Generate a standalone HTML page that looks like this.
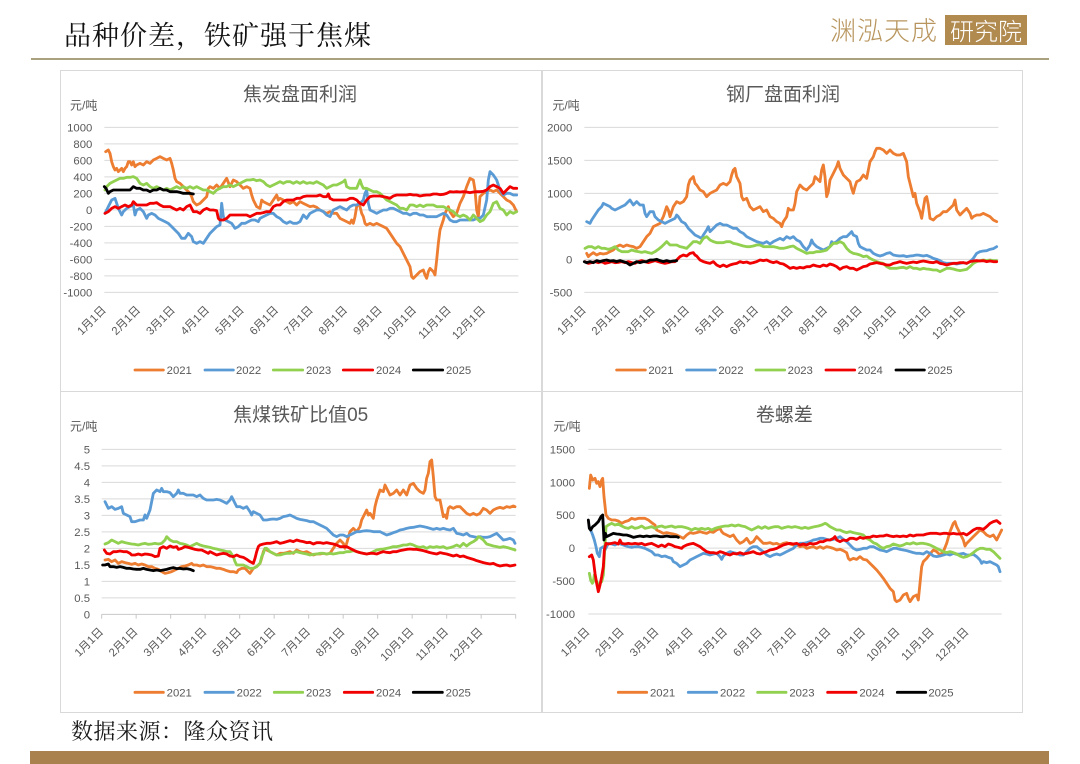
<!DOCTYPE html>
<html><head><meta charset="utf-8"><style>
html,body{margin:0;padding:0;background:#fff;}
body{width:1080px;height:764px;position:relative;overflow:hidden;font-family:"Liberation Sans","Noto Sans CJK SC",sans-serif;}
.abs{position:absolute;}
.panel{position:absolute;border:1px solid #d9d9d9;box-sizing:border-box;background:#fff;}
svg{position:absolute;overflow:visible;}
svg text{font-family:"Liberation Sans","Noto Sans CJK SC",sans-serif;fill:#595959;}
.s{fill:none;stroke-width:8.5;stroke-linejoin:round;stroke-linecap:round;}
.o{stroke:#ED7D31}.b{stroke:#5B9BD5}.g{stroke:#92D050}.r{stroke:#F00000}.k{stroke:#000}
.grid line{stroke:#d9d9d9;stroke-width:3}
</style></head><body>
<div class="abs" style="left:64px;top:16px;font-family:'Noto Serif CJK SC','Liberation Serif',serif;font-size:27px;color:#111;letter-spacing:1px;line-height:36px;">品种价差，铁矿强于焦煤</div>
<div class="abs" style="left:830px;top:14px;font-family:'Noto Sans CJK SC',sans-serif;font-weight:300;font-size:26px;line-height:32px;color:#b8955e;letter-spacing:1px;">渊泓天成</div>
<div class="abs" style="left:945px;top:15px;width:82px;height:30px;background:#b08a4e;color:#fff;font-family:'Noto Sans CJK SC',sans-serif;font-weight:300;font-size:24px;line-height:30px;text-align:center;">研究院</div>
<div class="abs" style="left:31px;top:58px;width:1018px;height:2px;background:#aaa27e;"></div>

<div class="panel" style="left:60px;top:70px;width:482px;height:322px;"></div>
<div class="panel" style="left:542px;top:70px;width:481px;height:322px;"></div>
<div class="panel" style="left:60px;top:391px;width:482px;height:322px;"></div>
<div class="panel" style="left:542px;top:391px;width:481px;height:322px;"></div>

<!-- Panel 1 -->
<svg style="left:60px;top:90px" width="470" height="300" viewBox="0 0 1410 900">
<text x="720" y="15" font-size="57" text-anchor="middle" dominant-baseline="central">焦炭盘面利润</text>
<text x="30" y="58" font-size="36">元/吨</text>
<g class="grid">
<line x1="133" x2="1375" y1="112" y2="112"/><line x1="133" x2="1375" y1="161.5" y2="161.5"/><line x1="133" x2="1375" y1="211" y2="211"/><line x1="133" x2="1375" y1="260.5" y2="260.5"/><line x1="133" x2="1375" y1="310" y2="310"/><line x1="133" x2="1375" y1="359.5" y2="359.5"/><line x1="133" x2="1375" y1="409" y2="409"/><line x1="133" x2="1375" y1="458.5" y2="458.5"/><line x1="133" x2="1375" y1="508" y2="508"/><line x1="133" x2="1375" y1="557.5" y2="557.5"/><line x1="133" x2="1375" y1="607" y2="607"/>
</g>
<g font-size="34" text-anchor="end">
<text x="97" y="124">1000</text><text x="97" y="173.5">800</text><text x="97" y="223">600</text><text x="97" y="272.5">400</text><text x="97" y="322">200</text><text x="97" y="371.5">0</text><text x="97" y="421">-200</text><text x="97" y="470.5">-400</text><text x="97" y="520">-600</text><text x="97" y="569.5">-800</text><text x="97" y="619">-1000</text>
</g>
<g font-size="34" text-anchor="end">
<text transform="translate(140,662) rotate(-45)">1月1日</text><text transform="translate(243,662) rotate(-45)">2月1日</text><text transform="translate(347,662) rotate(-45)">3月1日</text><text transform="translate(450,662) rotate(-45)">4月1日</text><text transform="translate(554,662) rotate(-45)">5月1日</text><text transform="translate(657,662) rotate(-45)">6月1日</text><text transform="translate(761,662) rotate(-45)">7月1日</text><text transform="translate(864,662) rotate(-45)">8月1日</text><text transform="translate(968,662) rotate(-45)">9月1日</text><text transform="translate(1071,662) rotate(-45)">10月1日</text><text transform="translate(1175,662) rotate(-45)">11月1日</text><text transform="translate(1278,662) rotate(-45)">12月1日</text>
</g>
<polyline class="s o" points="137,185 145,180 150,190 155,215 160,230 165,240 170,235 175,245 180,240 185,235 190,245 195,235 200,230 205,215 210,215 215,225 220,215 225,230 230,225 240,220 250,225 260,215 270,220 280,210 290,205 300,200 310,205 320,210 330,205 335,220 340,240 345,265 350,275 360,280 370,290 380,300 390,310 395,320 400,335 405,340 410,345 420,340 430,330 440,320 445,295 450,290 460,295 470,285 480,295 490,280 500,265 510,290 520,270 530,275 540,285 550,295 560,290 570,295 575,315 580,330 590,350 600,355 605,330 610,335 620,340 630,345 640,330 650,315 655,330 660,325 670,330 680,335 690,340 700,335 710,345 720,335 730,340 740,345 750,350 760,348 770,352 780,360 790,365 800,370 810,365 820,370 830,370 840,385 850,390 860,395 870,400 875,390 880,400 885,380 890,350 895,340 900,350 905,370 910,380 915,400 920,405 930,400 940,405 950,400 960,405 970,410 980,415 990,430 1000,445 1010,460 1020,470 1030,490 1040,510 1050,530 1055,560 1060,565 1070,555 1080,545 1090,540 1095,555 1100,565 1105,545 1110,535 1120,545 1125,555 1130,510 1135,460 1140,420 1145,405 1150,390 1155,370 1160,360 1165,350 1170,365 1180,380 1190,370 1200,340 1210,320 1220,290 1230,265 1240,270 1245,300 1250,360 1255,380 1260,320 1270,310 1280,305 1290,300 1300,305 1310,300 1320,310 1330,320 1340,330 1350,335 1360,345 1370,365"/>
<polyline class="s b" points="135,370 145,350 155,330 165,325 170,340 175,355 185,375 190,365 200,355 210,350 220,345 225,375 230,360 240,355 250,365 260,385 265,375 275,370 285,375 295,385 305,390 315,395 325,400 335,410 345,420 355,430 365,445 375,445 385,430 395,440 400,455 410,460 420,455 430,460 440,445 450,430 460,420 470,410 480,405 485,340 490,380 495,390 505,395 515,400 525,415 535,410 545,400 555,400 565,395 575,390 585,390 595,395 600,385 610,380 620,375 630,370 640,370 650,380 660,385 670,395 680,400 690,395 700,400 710,400 720,395 730,375 740,385 750,370 760,365 770,360 780,360 790,365 800,375 810,380 820,360 830,355 840,350 850,355 860,360 870,350 880,345 890,345 900,340 910,330 915,310 920,300 925,340 930,360 940,365 950,370 960,365 970,360 980,360 990,355 1000,355 1010,360 1020,365 1030,370 1040,370 1050,375 1060,370 1070,370 1080,375 1090,375 1100,380 1110,380 1120,380 1130,380 1140,375 1150,370 1160,375 1170,390 1180,395 1190,395 1200,390 1210,390 1220,390 1230,390 1240,390 1250,385 1260,385 1270,375 1280,330 1285,270 1290,245 1300,255 1310,270 1320,300 1330,315 1340,310 1350,310 1360,315 1370,315"/>
<polyline class="s g" points="135,300 140,290 150,280 160,275 170,270 180,265 190,265 200,262 210,262 220,260 230,265 240,280 250,285 260,280 270,290 280,295 290,290 300,295 310,300 320,295 330,300 340,295 350,290 360,295 370,290 380,295 390,290 400,295 410,290 420,295 430,300 440,300 450,305 460,310 470,300 480,295 490,290 500,290 510,285 520,290 530,285 540,280 550,275 560,270 570,270 580,268 590,272 600,270 610,275 620,285 630,290 640,285 650,280 660,275 670,280 680,275 690,275 700,280 710,275 720,280 730,275 740,280 750,278 760,280 770,275 780,280 790,285 800,295 810,290 820,285 830,285 840,280 850,275 855,270 860,290 870,295 880,295 890,295 900,270 905,285 910,295 920,295 930,300 940,305 950,305 960,310 970,320 980,330 990,335 1000,340 1010,345 1020,355 1030,355 1040,360 1050,345 1060,345 1070,350 1080,345 1090,350 1100,345 1110,345 1120,345 1130,350 1140,350 1150,350 1160,355 1170,360 1180,365 1190,375 1200,380 1210,375 1220,380 1230,390 1240,375 1250,385 1260,395 1270,390 1280,375 1290,365 1300,340 1310,335 1320,355 1330,360 1340,375 1350,365 1360,370 1370,365"/>
<polyline class="s r" points="135,370 145,365 155,355 165,350 175,355 185,350 195,345 205,350 215,345 220,335 230,345 240,345 250,345 260,345 270,340 280,340 290,338 300,345 310,350 320,350 330,350 340,355 350,360 360,355 370,360 380,350 390,345 400,365 410,365 420,370 430,360 440,355 450,360 460,360 470,362 475,385 480,390 490,390 500,385 510,375 520,375 530,375 540,375 550,375 560,375 570,380 580,375 590,370 600,370 610,368 620,365 630,365 640,350 650,345 660,345 670,335 680,330 690,330 700,330 710,325 720,325 730,320 740,318 750,318 760,318 770,318 780,315 790,320 800,320 805,312 810,325 820,330 830,330 840,330 850,330 860,330 870,325 880,325 890,330 900,340 910,345 920,330 930,320 940,318 950,318 960,318 970,320 980,322 990,325 1000,318 1010,315 1020,315 1030,315 1040,315 1050,313 1060,315 1070,315 1080,318 1090,316 1100,315 1110,315 1120,312 1130,312 1140,314 1150,313 1160,310 1170,305 1180,306 1190,305 1200,306 1210,305 1220,306 1230,308 1240,306 1250,305 1260,305 1270,304 1280,300 1290,290 1300,285 1310,290 1320,295 1330,310 1340,300 1350,290 1360,295 1370,295"/>
<polyline class="s k" points="133,290 138,295 145,310 150,305 160,300 170,300 180,300 190,300 200,300 210,300 215,295 220,290 230,295 240,295 250,300 260,300 270,305 280,300 290,300 300,295 310,300 320,300 330,305 340,305 350,305 360,307 370,310 380,310 390,310 400,312"/>
<g font-size="34">
<line x1="225" x2="310" y1="840" y2="840" class="s o" stroke-linecap="butt"/><text x="320" y="852">2021</text>
<line x1="435" x2="520" y1="840" y2="840" class="s b" stroke-linecap="butt"/><text x="528" y="852">2022</text>
<line x1="640" x2="728" y1="840" y2="840" class="s g" stroke-linecap="butt"/><text x="738" y="852">2023</text>
<line x1="850" x2="938" y1="840" y2="840" class="s r" stroke-linecap="butt"/><text x="948" y="852">2024</text>
<line x1="1060" x2="1148" y1="840" y2="840" class="s k" stroke-linecap="butt"/><text x="1158" y="852">2025</text>
</g>
</svg>

<!-- Panel 2 -->
<svg style="left:540px;top:90px" width="470" height="300" viewBox="0 0 1410 900">
<text x="729" y="15" font-size="57" text-anchor="middle" dominant-baseline="central">钢厂盘面利润</text>
<text x="37" y="58" font-size="36">元/吨</text>
<g class="grid">
<line x1="133" x2="1375" y1="112" y2="112"/><line x1="133" x2="1375" y1="211" y2="211"/><line x1="133" x2="1375" y1="310" y2="310"/><line x1="133" x2="1375" y1="409" y2="409"/><line x1="133" x2="1375" y1="508" y2="508"/><line x1="133" x2="1375" y1="607" y2="607"/>
</g>
<g font-size="34" text-anchor="end">
<text x="97" y="124">2000</text><text x="97" y="223">1500</text><text x="97" y="322">1000</text><text x="97" y="421">500</text><text x="97" y="520">0</text><text x="97" y="619">-500</text>
</g>
<g font-size="34" text-anchor="end">
<text transform="translate(140,662) rotate(-45)">1月1日</text><text transform="translate(243,662) rotate(-45)">2月1日</text><text transform="translate(347,662) rotate(-45)">3月1日</text><text transform="translate(450,662) rotate(-45)">4月1日</text><text transform="translate(554,662) rotate(-45)">5月1日</text><text transform="translate(657,662) rotate(-45)">6月1日</text><text transform="translate(761,662) rotate(-45)">7月1日</text><text transform="translate(864,662) rotate(-45)">8月1日</text><text transform="translate(968,662) rotate(-45)">9月1日</text><text transform="translate(1071,662) rotate(-45)">10月1日</text><text transform="translate(1175,662) rotate(-45)">11月1日</text><text transform="translate(1278,662) rotate(-45)">12月1日</text>
</g>
<polyline class="s o" points="140,490 145,500 150,495 160,488 170,495 180,490 190,492 200,490 210,485 220,480 230,470 240,465 250,470 260,465 270,468 280,470 290,475 300,470 310,455 320,440 330,430 340,410 350,405 360,400 370,380 380,350 385,360 390,380 400,350 410,335 420,340 430,335 440,320 445,285 450,270 460,260 465,280 470,285 480,300 490,305 500,320 510,310 520,305 530,300 540,285 550,280 560,285 570,275 575,255 580,240 585,235 590,260 600,280 605,320 610,330 620,325 630,350 640,360 650,355 660,350 670,365 680,360 690,380 700,385 710,395 720,400 725,410 730,395 740,380 745,355 750,360 760,360 765,340 770,305 780,285 790,295 800,300 810,290 820,280 825,260 830,265 840,275 845,240 850,225 855,260 860,320 865,305 870,270 880,250 890,230 895,215 900,235 910,255 920,265 930,275 935,295 940,310 945,290 950,275 960,270 970,255 980,265 985,240 990,215 1000,200 1005,185 1010,175 1020,175 1030,180 1040,190 1050,180 1060,190 1070,195 1080,195 1090,190 1100,215 1105,260 1110,280 1115,300 1120,320 1125,310 1130,340 1140,365 1145,385 1150,355 1155,325 1160,320 1165,345 1170,385 1180,390 1190,380 1200,375 1210,365 1220,365 1230,355 1240,345 1245,330 1250,360 1260,375 1270,365 1280,355 1290,370 1295,385 1300,380 1310,375 1320,375 1330,370 1340,375 1350,380 1360,390 1370,395"/>
<polyline class="s b" points="140,395 150,400 155,390 165,375 175,360 185,350 190,340 200,345 210,350 215,355 225,360 235,355 245,350 255,345 265,335 270,330 280,345 290,335 300,345 310,345 315,370 320,380 330,365 340,365 345,380 355,390 365,395 375,400 385,395 395,390 405,385 410,375 415,380 425,395 435,400 445,415 455,425 465,435 475,440 485,445 490,435 500,420 505,410 510,425 520,415 530,405 540,400 550,405 560,405 570,410 580,415 590,415 600,425 610,430 620,440 630,445 640,450 650,455 660,458 670,460 680,455 690,462 700,455 710,450 720,445 730,450 740,440 750,445 760,440 770,450 780,455 790,470 800,480 810,465 815,450 820,460 830,470 840,475 850,480 860,475 870,470 875,455 880,460 890,455 900,445 910,440 920,440 930,430 935,425 940,435 950,440 955,460 960,470 970,475 980,480 990,480 1000,490 1010,495 1020,498 1030,495 1040,490 1050,488 1060,495 1070,497 1080,498 1090,497 1100,500 1110,498 1120,497 1130,495 1140,496 1150,498 1160,496 1170,500 1180,505 1190,508 1200,512 1210,518 1220,520 1230,520 1240,520 1250,522 1260,520 1270,518 1280,520 1290,515 1300,505 1310,490 1320,485 1330,483 1340,482 1350,478 1360,476 1370,470"/>
<polyline class="s g" points="135,475 145,470 155,470 165,475 175,470 185,475 195,475 205,478 215,475 225,470 235,480 245,485 255,485 265,485 275,480 285,483 295,485 305,487 315,485 325,488 335,490 345,485 355,478 365,470 375,460 380,455 390,465 400,465 410,465 420,470 430,472 440,475 450,465 460,455 470,455 480,460 490,445 500,440 510,450 520,455 530,458 540,458 550,458 560,455 570,455 580,460 590,462 600,465 610,468 620,470 630,470 640,468 650,465 660,465 670,470 680,470 690,470 700,470 710,472 720,475 730,475 740,473 750,470 760,468 770,475 780,480 790,485 800,490 810,488 820,488 830,485 840,485 850,483 860,480 870,470 880,460 890,460 900,455 910,460 920,475 930,485 940,490 950,492 960,495 970,500 980,498 990,505 1000,510 1010,515 1020,518 1030,520 1040,530 1050,535 1060,535 1070,535 1080,533 1090,532 1100,535 1110,530 1120,535 1130,535 1140,538 1150,535 1160,537 1170,538 1180,540 1190,540 1200,545 1210,540 1220,535 1230,535 1240,537 1250,540 1260,542 1270,540 1280,538 1290,530 1300,520 1310,515 1320,512 1330,510 1340,512 1350,510 1360,512 1370,512"/>
<polyline class="s r" points="135,515 145,520 155,518 165,515 175,518 185,515 195,520 205,518 215,515 225,518 235,517 245,515 255,518 265,515 275,518 285,520 295,515 305,512 315,515 325,518 335,515 345,512 355,515 365,518 375,520 385,518 395,515 405,515 410,510 420,500 430,495 440,498 450,490 460,488 465,495 470,498 480,510 490,515 500,518 510,520 520,515 530,525 540,530 550,525 560,530 570,525 580,522 590,520 600,515 610,518 620,516 630,520 640,518 650,515 660,510 670,512 680,510 690,515 700,518 710,515 720,520 730,522 740,528 750,535 760,532 770,535 780,532 790,534 800,530 810,530 820,525 830,528 840,530 850,525 860,528 870,522 880,525 890,530 900,538 910,532 920,530 930,535 940,535 950,540 960,535 970,530 980,528 990,522 1000,520 1010,518 1020,520 1030,522 1040,525 1050,525 1060,520 1070,518 1080,515 1090,518 1100,520 1110,518 1120,516 1130,518 1140,515 1150,513 1160,515 1170,517 1180,518 1190,515 1200,520 1210,522 1220,525 1230,522 1240,520 1250,520 1260,518 1270,518 1280,520 1290,515 1300,513 1310,512 1320,513 1330,512 1340,515 1350,513 1360,515 1370,515"/>
<polyline class="s k" points="133,515 140,518 150,515 160,518 170,512 180,515 190,512 200,510 210,513 220,512 230,515 240,512 250,515 260,518 270,525 280,520 290,515 300,518 310,515 320,515 330,510 340,510 350,508 360,512 370,515 380,512 390,515 400,513 410,512"/>
<g font-size="34">
<line x1="230" x2="316" y1="840" y2="840" class="s o" stroke-linecap="butt"/><text x="325" y="852">2021</text>
<line x1="440" x2="526" y1="840" y2="840" class="s b" stroke-linecap="butt"/><text x="535" y="852">2022</text>
<line x1="648" x2="734" y1="840" y2="840" class="s g" stroke-linecap="butt"/><text x="743" y="852">2023</text>
<line x1="858" x2="944" y1="840" y2="840" class="s r" stroke-linecap="butt"/><text x="953" y="852">2024</text>
<line x1="1068" x2="1153" y1="840" y2="840" class="s k" stroke-linecap="butt"/><text x="1162" y="852">2025</text>
</g>
</svg>

<!-- Panel 3 -->
<svg style="left:60px;top:400px" width="470" height="310" viewBox="0 0 1410 930">
<text x="722" y="47" font-size="57" text-anchor="middle" dominant-baseline="central">焦煤铁矿比值05</text>
<text x="30" y="92" font-size="36">元/吨</text>
<g class="grid">
<line x1="125" x2="1367" y1="148" y2="148"/><line x1="125" x2="1367" y1="197.5" y2="197.5"/><line x1="125" x2="1367" y1="247" y2="247"/><line x1="125" x2="1367" y1="296.5" y2="296.5"/><line x1="125" x2="1367" y1="346" y2="346"/><line x1="125" x2="1367" y1="395.5" y2="395.5"/><line x1="125" x2="1367" y1="445" y2="445"/><line x1="125" x2="1367" y1="494.5" y2="494.5"/><line x1="125" x2="1367" y1="544" y2="544"/><line x1="125" x2="1367" y1="593.5" y2="593.5"/>
</g>
<g stroke="#c8c8c8" stroke-width="3">
<line x1="125" x2="1367" y1="643" y2="643"/>
<line x1="125" x2="125" y1="643" y2="656"/><line x1="228.5" x2="228.5" y1="643" y2="656"/><line x1="332" x2="332" y1="643" y2="656"/><line x1="435.5" x2="435.5" y1="643" y2="656"/><line x1="539" x2="539" y1="643" y2="656"/><line x1="642.5" x2="642.5" y1="643" y2="656"/><line x1="746" x2="746" y1="643" y2="656"/><line x1="849.5" x2="849.5" y1="643" y2="656"/><line x1="953" x2="953" y1="643" y2="656"/><line x1="1056.5" x2="1056.5" y1="643" y2="656"/><line x1="1160" x2="1160" y1="643" y2="656"/><line x1="1263.5" x2="1263.5" y1="643" y2="656"/><line x1="1367" x2="1367" y1="643" y2="656"/>
</g>
<g font-size="34" text-anchor="end">
<text x="90" y="160">5</text><text x="90" y="209.5">4.5</text><text x="90" y="259">4</text><text x="90" y="308.5">3.5</text><text x="90" y="358">3</text><text x="90" y="407.5">2.5</text><text x="90" y="457">2</text><text x="90" y="506.5">1.5</text><text x="90" y="556">1</text><text x="90" y="605.5">0.5</text><text x="90" y="655">0</text>
</g>
<g font-size="34" text-anchor="end">
<text transform="translate(132,697) rotate(-45)">1月1日</text><text transform="translate(235,697) rotate(-45)">2月1日</text><text transform="translate(339,697) rotate(-45)">3月1日</text><text transform="translate(442,697) rotate(-45)">4月1日</text><text transform="translate(546,697) rotate(-45)">5月1日</text><text transform="translate(649,697) rotate(-45)">6月1日</text><text transform="translate(753,697) rotate(-45)">7月1日</text><text transform="translate(856,697) rotate(-45)">8月1日</text><text transform="translate(960,697) rotate(-45)">9月1日</text><text transform="translate(1063,697) rotate(-45)">10月1日</text><text transform="translate(1167,697) rotate(-45)">11月1日</text><text transform="translate(1270,697) rotate(-45)">12月1日</text>
</g>
<polyline class="s o" points="135,480 145,478 155,485 165,480 175,490 185,485 195,488 205,490 215,493 225,490 235,495 245,492 255,495 265,500 275,500 285,505 295,508 305,515 315,520 325,518 335,515 345,510 355,505 365,500 375,498 385,495 395,490 400,495 410,495 420,498 430,495 440,500 450,500 460,502 470,505 480,505 490,508 500,512 510,515 520,515 530,518 535,510 545,505 555,505 560,510 570,520 580,505 590,500 600,490 605,475 610,455 615,445 620,450 630,455 640,460 650,465 660,460 670,460 680,458 690,455 700,460 710,450 720,455 730,458 740,455 750,460 760,465 770,462 780,462 790,460 800,462 810,460 820,445 830,430 840,420 850,430 855,445 860,430 870,395 880,385 890,395 900,380 905,360 910,350 920,330 925,345 930,340 940,355 945,320 950,300 960,270 970,275 975,255 980,265 990,285 1000,280 1010,270 1020,285 1030,270 1040,285 1050,255 1060,250 1070,265 1080,275 1090,280 1095,270 1100,235 1105,220 1110,185 1115,180 1120,230 1125,290 1130,300 1140,300 1150,350 1155,345 1160,355 1165,325 1170,320 1180,325 1190,320 1200,320 1210,330 1220,340 1230,345 1240,340 1250,345 1260,340 1270,325 1280,330 1290,340 1300,330 1310,325 1320,322 1330,325 1340,320 1350,322 1360,318 1365,320"/>
<polyline class="s b" points="135,305 140,315 145,325 155,320 165,328 175,325 185,320 190,340 200,345 210,350 215,365 225,365 240,360 250,360 255,345 260,355 270,330 280,280 290,270 300,275 305,265 310,275 320,275 330,278 340,290 350,280 355,270 360,280 370,280 380,285 390,285 400,285 410,290 420,285 430,295 440,300 450,300 460,300 470,298 480,300 490,305 500,310 510,300 515,290 520,300 530,320 540,320 550,325 560,320 570,335 575,345 580,335 590,340 600,345 610,360 620,360 630,358 640,357 650,358 660,355 670,350 680,348 690,345 700,350 710,355 720,358 730,360 740,362 750,365 760,365 770,370 780,375 790,380 800,385 810,395 820,405 830,410 840,405 850,405 860,410 870,405 880,400 890,395 900,395 910,393 920,392 930,393 940,395 950,395 960,395 970,400 980,405 990,402 1000,398 1010,395 1020,390 1030,388 1040,385 1050,383 1060,382 1070,380 1080,378 1090,380 1100,382 1110,385 1120,388 1130,385 1140,388 1150,385 1160,388 1170,390 1180,385 1190,400 1200,402 1210,405 1220,400 1230,408 1240,410 1250,412 1260,410 1270,412 1280,412 1290,410 1300,405 1310,400 1320,410 1330,420 1340,418 1350,415 1360,420 1365,430"/>
<polyline class="s g" points="135,432 145,428 155,420 165,425 175,430 185,425 195,428 205,430 215,432 225,433 235,435 245,432 255,430 265,433 275,432 285,430 295,432 305,430 315,420 320,410 330,420 340,425 350,425 360,430 370,432 380,435 390,440 400,435 410,430 420,435 430,438 440,440 450,442 460,445 470,447 480,450 490,452 500,455 510,455 520,470 525,485 530,495 540,495 550,495 560,500 570,505 580,505 590,500 600,490 605,470 610,460 615,445 620,445 630,455 640,460 650,465 660,465 670,462 680,460 690,460 700,458 710,455 720,458 730,460 740,462 750,465 760,463 770,462 780,460 790,460 800,462 810,460 820,462 830,460 840,458 850,458 860,455 870,455 880,452 890,455 900,458 910,460 920,462 930,460 940,455 950,450 960,448 970,447 980,445 990,443 1000,440 1010,440 1020,438 1030,435 1040,435 1050,432 1060,435 1070,440 1080,442 1090,440 1100,445 1110,440 1120,442 1130,440 1140,442 1150,440 1160,445 1170,443 1180,440 1190,435 1200,440 1210,430 1220,438 1230,430 1240,425 1250,418 1255,410 1260,412 1270,420 1280,432 1290,435 1300,438 1310,440 1320,442 1330,440 1340,442 1350,445 1360,448 1365,450"/>
<polyline class="s r" points="133,450 140,460 150,462 160,455 170,455 180,453 190,455 200,455 210,460 215,465 225,465 235,462 245,465 255,462 265,463 275,465 285,470 295,468 300,445 310,440 320,445 330,438 340,442 350,440 355,448 365,445 375,440 385,442 395,445 405,448 415,450 425,450 435,455 445,460 450,455 460,460 470,465 480,462 490,460 500,462 510,468 520,470 530,465 540,470 550,472 560,478 570,485 580,490 585,475 590,455 595,440 600,435 610,432 620,430 630,430 640,428 650,425 660,430 670,428 680,425 690,422 700,425 710,420 720,423 730,425 740,428 750,427 760,432 770,428 780,428 790,430 800,428 810,430 820,432 830,435 840,440 850,440 860,440 870,445 880,450 890,455 900,458 910,460 920,462 930,460 940,460 950,462 960,458 970,455 980,457 990,458 1000,455 1010,455 1020,452 1030,450 1040,448 1050,447 1060,448 1070,448 1080,450 1090,452 1100,455 1110,458 1120,460 1130,462 1140,458 1150,460 1160,462 1170,465 1180,468 1190,465 1200,470 1210,468 1220,472 1230,475 1240,478 1250,482 1260,485 1270,488 1280,490 1290,492 1300,490 1310,495 1320,498 1330,496 1340,495 1350,498 1360,496 1365,495"/>
<polyline class="s k" points="128,495 135,495 145,492 150,500 160,500 170,502 180,500 190,502 200,505 210,505 220,507 230,508 240,508 250,505 260,508 270,510 280,512 290,510 300,512 310,510 320,508 330,505 340,503 350,506 360,505 370,507 380,506 390,508 400,512"/>
<g font-size="34">
<line x1="225" x2="310" y1="877" y2="877" class="s o" stroke-linecap="butt"/><text x="320" y="889">2021</text>
<line x1="435" x2="520" y1="877" y2="877" class="s b" stroke-linecap="butt"/><text x="530" y="889">2022</text>
<line x1="643" x2="728" y1="877" y2="877" class="s g" stroke-linecap="butt"/><text x="738" y="889">2023</text>
<line x1="853" x2="938" y1="877" y2="877" class="s r" stroke-linecap="butt"/><text x="948" y="889">2024</text>
<line x1="1060" x2="1147" y1="877" y2="877" class="s k" stroke-linecap="butt"/><text x="1157" y="889">2025</text>
</g>
</svg>

<!-- Panel 4 -->
<svg style="left:540px;top:400px" width="470" height="310" viewBox="0 0 1410 930">
<text x="733" y="47" font-size="57" text-anchor="middle" dominant-baseline="central">卷螺差</text>
<text x="40" y="92" font-size="36">元/吨</text>
<g class="grid">
<line x1="145" x2="1385" y1="148" y2="148"/><line x1="145" x2="1385" y1="246.8" y2="246.8"/><line x1="145" x2="1385" y1="345.6" y2="345.6"/><line x1="145" x2="1385" y1="444.4" y2="444.4"/><line x1="145" x2="1385" y1="543.2" y2="543.2"/><line x1="145" x2="1385" y1="642" y2="642"/>
</g>
<g font-size="34" text-anchor="end">
<text x="105" y="160">1500</text><text x="105" y="258.8">1000</text><text x="105" y="357.6">500</text><text x="105" y="456.4">0</text><text x="105" y="555.2">-500</text><text x="105" y="654">-1000</text>
</g>
<g font-size="34" text-anchor="end">
<text transform="translate(151,697) rotate(-45)">1月1日</text><text transform="translate(254,697) rotate(-45)">2月1日</text><text transform="translate(358,697) rotate(-45)">3月1日</text><text transform="translate(461,697) rotate(-45)">4月1日</text><text transform="translate(564,697) rotate(-45)">5月1日</text><text transform="translate(668,697) rotate(-45)">6月1日</text><text transform="translate(771,697) rotate(-45)">7月1日</text><text transform="translate(874,697) rotate(-45)">8月1日</text><text transform="translate(978,697) rotate(-45)">9月1日</text><text transform="translate(1081,697) rotate(-45)">10月1日</text><text transform="translate(1184,697) rotate(-45)">11月1日</text><text transform="translate(1288,697) rotate(-45)">12月1日</text>
</g>
<polyline class="s o" points="148,265 152,225 158,240 165,235 170,250 175,245 180,260 185,240 188,235 192,290 198,345 205,355 215,360 225,360 235,363 245,370 255,365 265,362 275,355 285,358 295,355 305,355 315,355 325,360 335,368 345,375 350,390 360,395 370,400 380,398 390,400 400,402 410,405 420,410 430,415 440,405 450,398 460,400 470,398 480,395 490,398 500,400 510,395 520,397 530,390 540,385 545,395 550,400 560,405 570,410 580,405 590,420 600,430 610,425 620,415 630,430 640,425 650,410 660,420 670,430 680,430 690,428 700,432 710,430 720,435 730,430 740,428 750,432 760,435 770,435 780,440 790,438 800,445 810,442 820,440 830,445 840,440 850,445 860,440 870,442 880,445 890,450 900,448 910,452 920,458 925,475 930,480 940,475 950,478 960,470 970,478 980,480 990,490 1000,500 1010,510 1020,522 1030,535 1040,550 1050,565 1060,575 1065,600 1070,605 1080,600 1090,585 1100,580 1105,595 1110,605 1120,590 1130,585 1135,600 1140,550 1145,500 1150,485 1160,475 1170,462 1180,450 1190,455 1200,465 1210,455 1220,430 1230,395 1240,370 1245,365 1250,380 1260,400 1270,420 1275,438 1280,430 1290,420 1300,410 1310,400 1320,390 1330,395 1340,405 1350,410 1360,405 1370,420 1380,400 1385,390"/>
<polyline class="s b" points="148,380 152,390 158,405 163,420 168,440 172,460 178,470 182,445 190,440 195,450 200,440 205,430 215,432 225,435 235,430 245,433 255,437 265,440 275,442 285,440 295,440 305,442 315,445 325,450 335,455 345,465 355,465 365,470 375,468 385,472 395,475 400,485 410,490 420,500 430,495 440,490 450,480 460,475 470,470 480,465 490,460 500,462 510,465 520,462 530,460 540,470 545,478 550,468 560,460 570,455 580,458 590,460 600,465 610,465 620,455 630,445 640,440 650,440 660,448 670,455 680,465 690,470 700,465 710,462 720,465 730,460 740,455 750,450 760,445 770,435 780,430 790,430 800,428 810,425 820,420 830,418 840,415 850,415 860,418 870,420 880,418 890,415 900,410 910,418 920,425 930,435 940,445 950,450 960,448 970,445 980,445 990,440 1000,440 1010,445 1020,450 1030,452 1040,455 1050,450 1060,445 1070,445 1080,448 1090,450 1100,452 1110,455 1120,458 1130,460 1140,460 1150,462 1160,455 1170,460 1180,468 1190,470 1200,468 1210,465 1220,462 1230,465 1240,460 1250,463 1260,462 1270,460 1280,465 1290,465 1300,463 1310,470 1320,480 1325,490 1330,485 1340,488 1350,485 1360,490 1370,495 1375,500 1380,515"/>
<polyline class="s g" points="148,520 152,540 157,550 160,545 163,525 168,540 175,555 185,545 190,525 193,470 198,380 205,375 215,370 225,375 235,372 245,378 255,383 265,385 275,380 285,385 295,383 305,378 315,385 325,383 335,380 345,385 355,380 365,378 375,382 385,380 395,378 405,382 415,380 425,380 435,382 445,385 455,390 465,385 475,388 485,385 495,388 505,385 515,390 525,385 535,382 545,380 555,378 565,378 575,375 585,378 595,375 605,378 615,380 625,385 635,390 645,385 655,380 665,385 675,380 685,385 695,382 705,380 715,380 725,385 735,382 745,380 755,382 765,380 775,382 785,385 795,382 805,385 815,382 825,380 835,378 845,375 855,370 860,372 870,380 880,385 890,390 900,390 910,395 920,398 930,395 940,398 950,400 960,402 970,405 980,415 990,420 1000,428 1010,432 1020,440 1030,445 1040,440 1050,438 1060,432 1070,435 1080,438 1090,435 1100,430 1110,432 1120,428 1130,432 1140,430 1150,430 1160,432 1170,435 1180,440 1190,445 1200,450 1210,455 1220,458 1230,455 1240,458 1250,462 1260,468 1270,472 1280,470 1290,465 1300,458 1310,450 1320,445 1330,445 1340,448 1350,448 1360,455 1370,465 1380,475"/>
<polyline class="s r" points="148,470 155,465 160,480 165,520 170,550 175,575 180,555 185,530 190,500 193,450 198,430 205,432 215,430 225,428 235,432 240,420 245,430 255,432 265,430 275,432 285,430 295,432 305,430 315,435 325,432 335,430 345,435 355,440 365,435 375,440 385,432 395,435 405,440 415,442 425,445 430,440 440,435 450,432 460,430 470,435 480,440 490,448 500,455 510,458 520,458 530,460 540,455 550,458 560,462 570,465 580,460 590,462 600,458 610,462 620,460 630,458 640,455 650,460 660,462 670,458 680,455 690,450 700,448 710,445 720,440 730,435 740,432 750,430 760,432 770,430 780,435 790,432 800,435 810,430 820,432 830,430 840,425 850,425 860,420 870,420 880,415 885,410 890,420 900,425 910,420 920,422 930,415 940,415 950,418 960,412 970,415 980,412 990,412 1000,408 1010,410 1020,408 1030,408 1040,405 1050,408 1060,410 1070,408 1080,410 1090,408 1100,410 1110,405 1120,408 1130,405 1140,405 1150,405 1160,402 1170,400 1180,400 1190,400 1200,402 1210,400 1220,400 1230,402 1240,400 1250,402 1260,402 1270,400 1280,405 1290,398 1300,390 1310,385 1320,385 1330,388 1340,380 1350,370 1360,365 1370,362 1380,370"/>
<polyline class="s k" points="145,360 148,385 152,390 158,380 165,375 175,365 183,350 188,345 192,420 196,400 200,410 210,405 220,400 230,402 240,403 250,405 260,405 270,408 280,412 290,410 300,408 310,410 320,408 330,410 340,408 350,408 360,410 370,410 380,408 390,410 400,410 410,410 415,412"/>
<g font-size="34">
<line x1="235" x2="320" y1="877" y2="877" class="s o" stroke-linecap="butt"/><text x="330" y="889">2021</text>
<line x1="445" x2="530" y1="877" y2="877" class="s b" stroke-linecap="butt"/><text x="540" y="889">2022</text>
<line x1="653" x2="738" y1="877" y2="877" class="s g" stroke-linecap="butt"/><text x="748" y="889">2023</text>
<line x1="863" x2="948" y1="877" y2="877" class="s r" stroke-linecap="butt"/><text x="958" y="889">2024</text>
<line x1="1072" x2="1157" y1="877" y2="877" class="s k" stroke-linecap="butt"/><text x="1165" y="889">2025</text>
</g>
</svg>

<div class="abs" style="left:71px;top:716px;font-family:'Noto Serif CJK SC','Liberation Serif',serif;font-size:22px;line-height:30px;color:#1a1a1a;letter-spacing:0.5px;">数据来源：隆众资讯</div>
<div class="abs" style="left:30px;top:751px;width:1019px;height:13px;background:#a8814f;"></div>
</body></html>
